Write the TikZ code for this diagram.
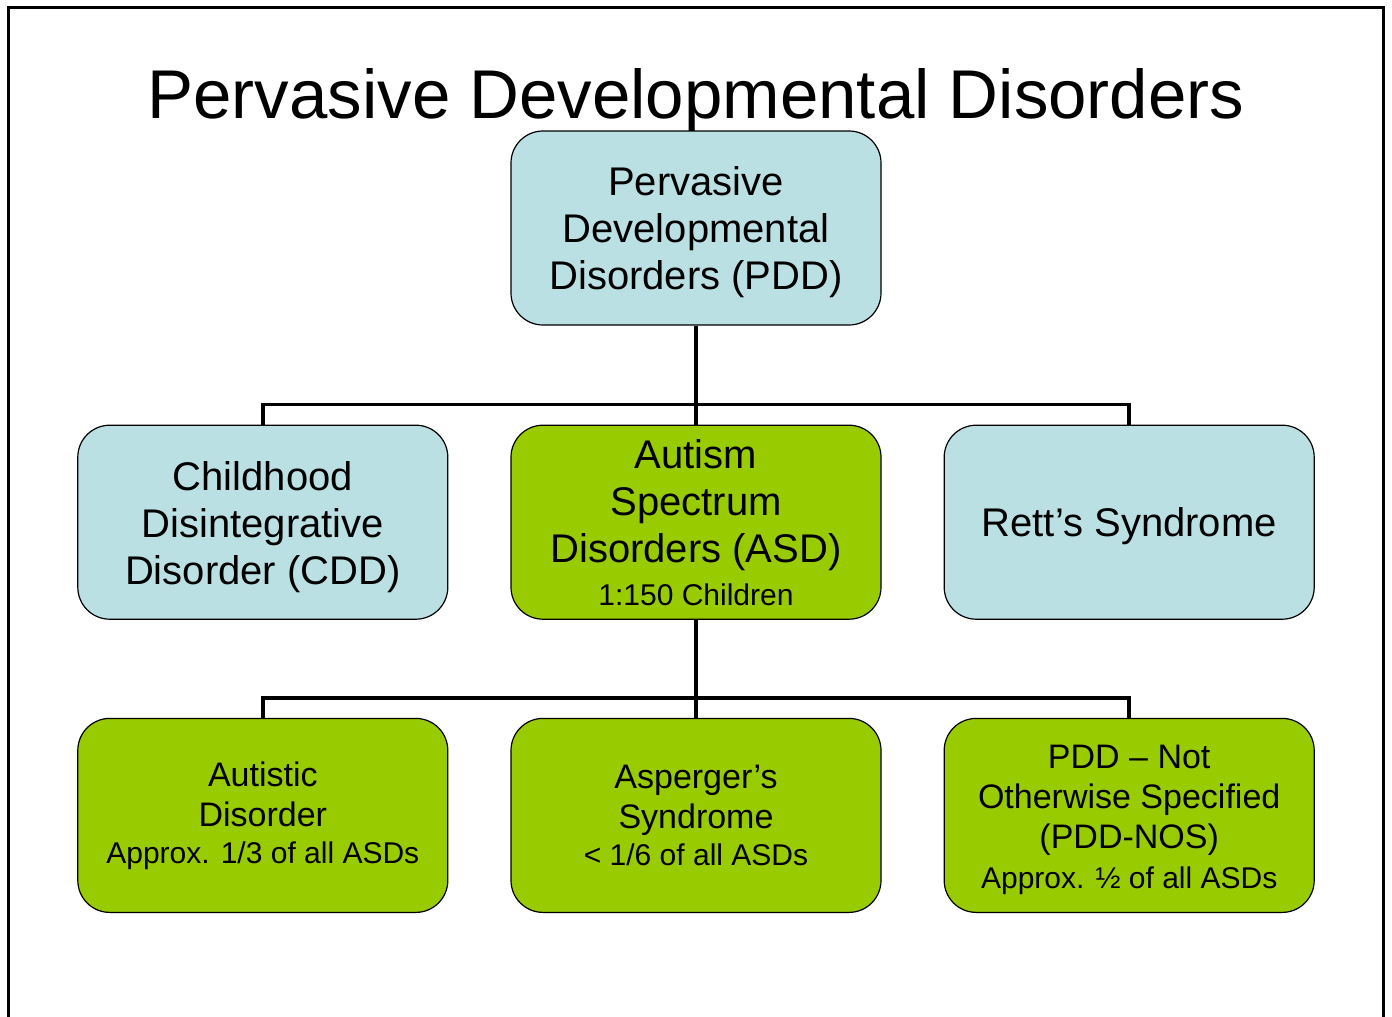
\documentclass[tikz,border=0pt]{standalone}
\usepackage{fontspec}
\setmainfont{Liberation Sans}
\usetikzlibrary{positioning}
\definecolor{pddblue}{RGB}{187,224,227}
\definecolor{asdgreen}{RGB}{153,204,0}
\newcommand{\sizeT}{\fontsize{69}{80}\selectfont}
\newcommand{\sizeL}{\fontsize{40}{47}\selectfont}
\newcommand{\sizeM}{\fontsize{34}{40}\selectfont}
\newcommand{\sizeS}{\fontsize{30}{40}\selectfont}

\begin{document}
\begin{tikzpicture}[x=1pt,y=-1pt,
  cell/.style={draw,line width=1.2pt,rounded corners=32pt,
    minimum width=370pt,minimum height=194pt,align=center,inner sep=0pt},
  blubox/.style={cell,fill=pddblue,font=\sizeL},
  grnbox/.style={cell,fill=asdgreen,font=\sizeL},
  subbox/.style={cell,fill=asdgreen,font=\sizeM},
  link/.style={line width=3.5pt},
  node distance=99pt and 62pt]
\useasboundingbox (0,0) rectangle (1392,1017);
%frame and title
\draw[line width=3pt] (8.5,1030) -- (8.5,7.5) -- (1383.5,7.5) -- (1383.5,1030);
\node[anchor=base,font=\sizeT] (title) at (696,118) {Pervasive Developmental Disorders};
%top level
\node[blubox] (pdd) at (696,228) {\rule{0pt}{38pt}Pervasive\\Developmental\\Disorders (PDD)};
%second level
\node[grnbox,below=of pdd] (asd) {Autism\\Spectrum\\Disorders (ASD)\\[-4pt]{\sizeS 1:150 Children}};
\node[blubox,left=of asd] (cdd) {\rule{0pt}{38pt}Childhood\\Disintegrative\\Disorder (CDD)};
\node[blubox,right=of asd] (rett) {\rule{0pt}{37pt}Rett’s Syndrome};
%third level
\node[subbox,below=98pt of asd] (asp) {Asperger’s\\Syndrome\\[-3pt]{\sizeS < 1/6 of all ASDs}};
\node[subbox,left=of asp] (aut) {Autistic\\Disorder\\[-3pt]{\sizeS Approx. 1/3 of all ASDs}};
\node[subbox,right=of asp] (nos) {\rule{0pt}{32pt}PDD – Not\\Otherwise Specified\\(PDD-NOS)\\{\sizeS Approx. ½ of all ASDs}};
%connectors
\draw[link] (pdd.south) -- (asd.north);
\draw[link] (cdd.north) |- ([yshift=20pt]asd.north) -| (rett.north);
\draw[link] (asd.south) -- (asp.north);
\draw[link] (aut.north) |- ([yshift=20pt]asp.north) -| (nos.north);
\end{tikzpicture}
\end{document}
